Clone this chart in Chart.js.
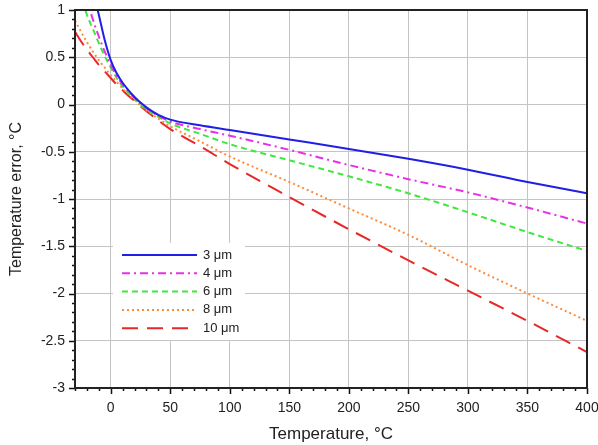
<!DOCTYPE html>
<html>
<head>
<meta charset="utf-8">
<script src="https://cdn.jsdelivr.net/npm/chart.js@4/dist/chart.umd.min.js"></script>
<style>
  html, body { margin: 0; padding: 0; background: #fff; }
  #wrap { width: 598px; height: 445px; }
</style>
</head>
<body>
<div id="wrap"><canvas id="grafico" width="598" height="445"></canvas></div>
<script>
// temperatura (°C) y error para cada tamaño
const temperaturas = [-30,-25,-20,-15,-10,-5,0,5,10,15,20,25,30,40,50,75,100,150,200,250,300,350,400];
const err3 = [2.1,1.75,1.45,1.2,0.95,0.68,0.47,0.33,0.23,0.15,0.08,0.02,-0.03,-0.11,-0.16,-0.22,-0.27,-0.37,-0.47,-0.575,-0.69,-0.82,-0.94];
const err4 = [1.7,1.4,1.12,0.9,0.72,0.56,0.42,0.3,0.21,0.14,0.07,0.01,-0.04,-0.12,-0.18,-0.26,-0.33,-0.48,-0.64,-0.79,-0.93,-1.09,-1.26];
const err6 = [1.4,1.15,0.95,0.8,0.65,0.51,0.39,0.28,0.19,0.12,0.06,0.0,-0.05,-0.13,-0.2,-0.31,-0.42,-0.59,-0.76,-0.94,-1.14,-1.35,-1.55];
const err8 = [0.89,0.77,0.66,0.56,0.47,0.39,0.31,0.24,0.17,0.11,0.05,-0.01,-0.06,-0.15,-0.23,-0.39,-0.55,-0.82,-1.1,-1.38,-1.7,-2.0,-2.29];
const err10 = [0.77,0.67,0.58,0.5,0.42,0.35,0.28,0.21,0.15,0.09,0.04,-0.02,-0.07,-0.17,-0.26,-0.44,-0.63,-0.98,-1.32,-1.65,-1.97,-2.29,-2.62];
const etiquetas = ['3 μm','4 μm','6 μm','8 μm','10 μm'];
const xTicks = [0,50,100,150,200,250,300,350,400];
const yTicks = [-3,-2.5,-2,-1.5,-1,-0.5,0,0.5,1];

const series = [err3, err4, err6, err8, err10];
const colores = ['#1f1fe6','#e632e6','#3ee83e','#ff8a3a','#e62828'];
const dashes = [[], [8,4,2,4], [6,4], [2,3], [16,9]];

const fuente = 'Arial, "Liberation Sans", sans-serif';

const datasets = series.map((s, i) => ({
    label: etiquetas[i],
    data: s.map((v, j) => ({x: temperaturas[j], y: v})),
    borderColor: colores[i],
    borderWidth: 2,
    borderDash: dashes[i],
    pointRadius: 0,
    cubicInterpolationMode: 'monotone',
    fill: false
}));

// marcas de eje (mayores y menores) + marco + leyenda
const marcas = {
    id: 'marcas',
    afterDatasetsDraw(chart) {
        const {ctx, chartArea: a, scales: {x, y}} = chart;
        ctx.save();
        ctx.strokeStyle = '#111';
        ctx.lineWidth = 1.5;
        ctx.beginPath();
        for (let t = -30; t <= 400; t += 10) {
            const px = Math.round(x.getPixelForValue(t)) + 0.5;
            const len = t % 50 === 0 ? 6 : 3;
            ctx.moveTo(px, a.bottom); ctx.lineTo(px, a.bottom + len);
        }
        for (let k = -30; k <= 10; k++) {
            const py = Math.round(y.getPixelForValue(k / 10)) + 0.5;
            const len = k % 5 === 0 ? 6 : 3;
            ctx.moveTo(a.left, py); ctx.lineTo(a.left - len, py);
        }
        ctx.stroke();
        ctx.lineWidth = 2;
        ctx.strokeStyle = '#222';
        ctx.strokeRect(a.left, a.top, a.right - a.left, a.bottom - a.top);
        ctx.restore();

        ctx.save();
        const lx = a.left + 38, ly = a.top + 233;
        ctx.fillStyle = '#fff';
        ctx.fillRect(lx, ly, 132, 97);
        ctx.font = '13px ' + fuente;
        ctx.textBaseline = 'middle';
        chart.data.datasets.forEach((ds, i) => {
            const yy = ly + 12 + i * 18.3;
            ctx.strokeStyle = ds.borderColor;
            ctx.lineWidth = 2;
            ctx.setLineDash(ds.borderDash);
            ctx.beginPath();
            ctx.moveTo(lx + 9, yy); ctx.lineTo(lx + 84, yy);
            ctx.stroke();
            ctx.setLineDash([]);
            ctx.fillStyle = '#222';
            ctx.fillText(ds.label, lx + 90, yy);
        });
        ctx.restore();
    }
};

new Chart(document.getElementById('grafico'), {
    type: 'line',
    data: { datasets },
    options: {
        responsive: false,
        animation: false,
        layout: { padding: { left: 0, top: 10, right: 11, bottom: 0 } },
        plugins: { legend: { display: false }, tooltip: { enabled: false } },
        scales: {
            x: {
                type: 'linear',
                min: -30, max: 400,
                afterBuildTicks: s => { s.ticks = xTicks.map(v => ({value: v})); },
                afterFit: s => { s.height = 57; s.paddingLeft = 0; s.paddingRight = 0; },
                grid: { color: '#c4c4c4', lineWidth: 1, drawTicks: false },
                border: { display: false },
                ticks: { padding: 12, color: '#222', font: { family: fuente, size: 14 }, maxRotation: 0,
                         callback: v => String(v) },
                title: { display: true, text: 'Temperature, °C', color: '#222',
                         font: { family: fuente, size: 17 }, padding: { top: 0, bottom: 0 } }
            },
            y: {
                min: -3, max: 1,
                afterBuildTicks: s => { s.ticks = yTicks.map(v => ({value: v})); },
                afterFit: s => { s.width = 75; s.paddingTop = 0; s.paddingBottom = 0; },
                grid: { color: '#c4c4c4', lineWidth: 1, drawTicks: false },
                border: { display: false },
                ticks: { padding: 10, color: '#222', font: { family: fuente, size: 14 },
                         callback: v => String(v) },
                title: { display: true, text: 'Temperature error, °C', color: '#222',
                         font: { family: fuente, size: 16 }, padding: { top: 7, bottom: 0 } }
            }
        }
    },
    plugins: [marcas]
});
</script>
</body>
</html>
